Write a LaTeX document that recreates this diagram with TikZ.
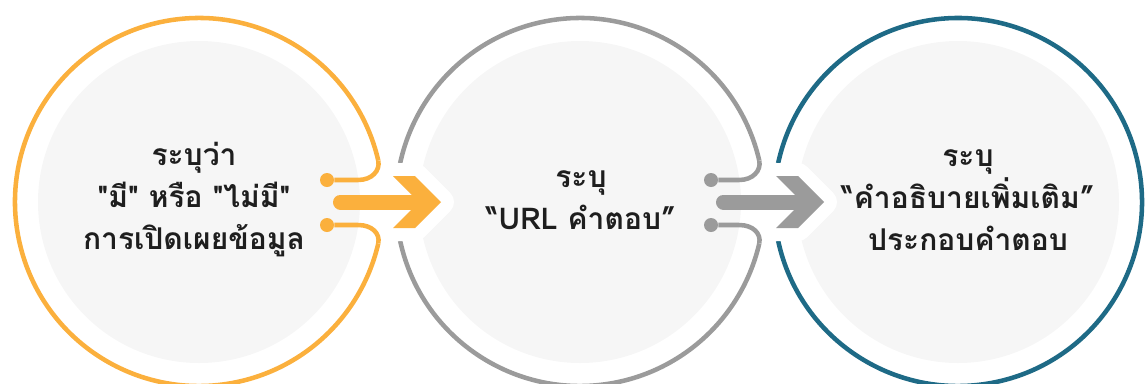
\documentclass[tikz,border=0pt]{standalone}
\usepackage{fontspec}
\newfontfamily\thaifont[Script=Thai]{Loma}
\definecolor{ringorange}{HTML}{FBB03D}
\definecolor{ringgrey}{HTML}{9B9B9B}
\definecolor{ringteal}{HTML}{1E6A86}
\definecolor{discfill}{HTML}{F6F6F6}
\definecolor{labeltext}{HTML}{1E1E1E}
\begin{document}
\begin{tikzpicture}[x=0.75pt, y=-0.75pt,
    ring/.style={line width=3.4pt},
    link/.style={line width=3.4pt},
    dot/.style={circle, inner sep=0pt, minimum size=10.5pt},
    halo/.style={draw=white, fill=white, line width=19.5pt, line join=round},
    steptext/.style={align=center, text=labeltext,
      font=\thaifont\bfseries\fontsize{22.5}{31.5}\selectfont}]
  \useasboundingbox (0,0) rectangle (1146,383);
  \clip (0,0) rectangle (1146,383);

  % Centres
  \coordinate (cA) at (199,202);
  \coordinate (cB) at (580,202);
  \coordinate (cC) at (958,202);

  % Discs
  \fill[discfill] (cA) circle[radius=161];
  \fill[discfill] (cB) circle[radius=161];
  \fill[discfill] (cC) circle[radius=161];

  % Rings
  \draw[ring, ringorange] (cA) ++(-13:184) arc[start angle=-13, end angle=-347, radius=184];
  \draw[ring, ringgrey] (cB) ++(-13:184) arc[start angle=-13, end angle=-167.8, radius=184];
  \draw[ring, ringgrey] (cB) ++(167.8:184) arc[start angle=167.8, end angle=13, radius=184];
  \draw[ring, ringteal] (cC) ++(167.8:184) arc[start angle=167.8, end angle=-167.8, radius=184];

  % Arrow tips
  \coordinate (tipA) at (441,202);
  \coordinate (tipB) at (824,202);
  \coordinate (tailA) at (340.5,202);
  \coordinate (tailB) at (723.5,202);

  % Halos
  \draw[halo] (tipA) -- ++(-26,-26) -- ++(-22,0) -- ++(26,26) -- ++(-26,26) -- ++(22,0) -- cycle;
  \draw[halo] (tipB) -- ++(-26,-26) -- ++(-22,0) -- ++(26,26) -- ++(-26,26) -- ++(22,0) -- cycle;

  % Dots
  \node[dot, fill=ringorange] (dotAup) at (327,180) {};
  \node[dot, fill=ringorange] (dotAlo) at (327,225) {};
  \node[dot, fill=ringgrey] (dotBup) at (711,180) {};
  \node[dot, fill=ringgrey] (dotBlo) at (711,225) {};

  % Links
  \draw[link, ringorange] (cA) ++(-13:184) .. controls +(2,10) and +(14,0) .. (358,180) -- (dotAup);
  \draw[link, ringorange] (cA) ++(13:184) .. controls +(2,-10) and +(14,0) .. (358,225) -- (dotAlo);
  \draw[link, ringgrey] (cB) ++(-13:184) .. controls +(2,10) and +(14,0) .. (739,180) -- (dotBup);
  \draw[link, ringgrey] (cB) ++(13:184) .. controls +(2,-10) and +(14,0) .. (739,225) -- (dotBlo);

  % Arrows
  \draw[ringorange, line width=11.25pt, line cap=round] (tailA) -- (420,202);
  \fill[ringorange] (tipA) -- ++(-26,-26) -- ++(-22,0) -- ++(26,26) -- ++(-26,26) -- ++(22,0) -- cycle;
  \draw[ringgrey, line width=11.25pt, line cap=round] (tailB) -- (803,202);
  \fill[ringgrey] (tipB) -- ++(-26,-26) -- ++(-22,0) -- ++(26,26) -- ++(-26,26) -- ++(22,0) -- cycle;

  % Texts
  \node[steptext] (txtA) at (194,200) {ระบุว่า\\"มี" หรือ "ไม่มี"\\การเปิดเผยข้อมูล};
  \node[steptext] (txtB) at (581,200) {ระบุ\\“URL คำตอบ”};
  \node[steptext] (txtC) at (968,200) {ระบุ\\“คำอธิบายเพิ่มเติม”\\ประกอบคำตอบ};
\end{tikzpicture}
\end{document}
